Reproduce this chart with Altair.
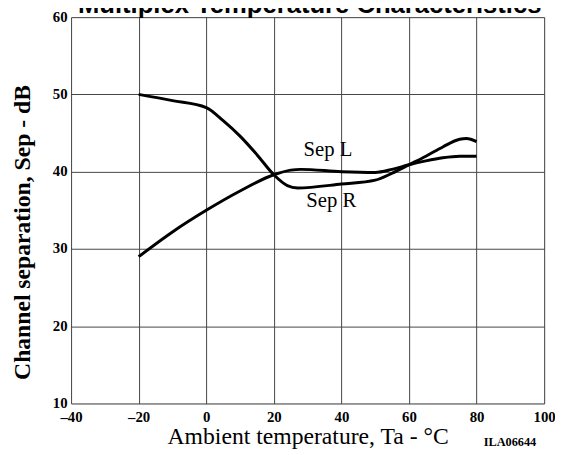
import altair as alt
import pandas as pd

# Data
temp_R = [-20, -10, 0, 5, 10, 15, 20, 24, 27, 40, 50, 55, 60, 65, 70, 75, 77, 80]
sep_R = [50.0, 49.2, 48.3, 46.6, 44.6, 42.2, 39.6, 38.2, 37.9, 38.4, 38.9, 39.8, 40.9, 42.0, 43.2, 44.2, 44.3, 43.9]

temp_L = [-20, -10, 0, 10, 20, 25, 28, 40, 50, 55, 60, 65, 70, 75, 80]
sep_L = [29.0, 32.2, 35.0, 37.5, 39.6, 40.2, 40.3, 40.0, 39.9, 40.3, 40.9, 41.4, 41.8, 42.0, 42.0]

label_text = ["Sep L", "Sep R"]
label_x = [36.0, 37.0]
label_y = [42.0, 35.4]

title_text = ["Multiplex Temperature Characteristics"]
code_text = ["ILA06644"]

x_ticks = [-40, -20, 0, 20, 40, 60, 80, 100]
y_ticks = [10, 20, 30, 40, 50, 60]

df = pd.concat([
    pd.DataFrame({"t": temp_R, "sep": sep_R, "series": "Sep R"}),
    pd.DataFrame({"t": temp_L, "sep": sep_L, "series": "Sep L"}),
])
labels = pd.DataFrame({"t": label_x, "sep": label_y, "text": label_text})

SERIF = "Liberation Serif"

x_scale = alt.Scale(domain=[-40, 100], nice=False, zero=False)
y_scale = alt.Scale(domain=[10, 60], nice=False, zero=False)

x_axis = alt.Axis(
    values=x_ticks, grid=True, gridColor="#444", gridWidth=1, domain=False, ticks=False,
    labelFont=SERIF, labelFontSize=15, labelFontWeight="bold", labelColor="black",
    labelPadding=6, labelFlush=False, labelOverlap=False,
    labelExpr="datum.value < 0 ? '\u2013' + abs(datum.value) : datum.label",
    title="Ambient temperature, Ta - \u00b0C", titleFont=SERIF, titleFontSize=24,
    titleFontWeight="normal", titleColor="black", titleBaseline="alphabetic", titleY=41,
)
y_axis = alt.Axis(
    values=y_ticks, grid=True, gridColor="#444", gridWidth=1, domain=False, ticks=False,
    labelFont=SERIF, labelFontSize=15, labelFontWeight="bold", labelColor="black",
    labelPadding=4, labelFlush=False, labelOverlap=False, labelOffset=-1,
    title="Channel separation, Sep - dB", titleFont=SERIF, titleFontSize=24,
    titleFontWeight="bold", titleColor="black", titleX=-42, titleY=218,
    titleAlign="center", titleBaseline="alphabetic", titleAngle=270,
)

lines = alt.Chart(df).mark_line(color="black", strokeWidth=3, interpolate="monotone").encode(
    x=alt.X("t:Q", scale=x_scale, axis=x_axis),
    y=alt.Y("sep:Q", scale=y_scale, axis=y_axis),
    detail="series:N",
)

texts = alt.Chart(labels).mark_text(
    font=SERIF, fontSize=21, color="black", align="center", baseline="alphabetic"
).encode(
    x=alt.X("t:Q", scale=x_scale),
    y=alt.Y("sep:Q", scale=y_scale),
    text="text:N",
)

code = alt.Chart(pd.DataFrame({"t": [100], "sep": [10], "text": code_text})).mark_text(
    font=SERIF, fontSize=12.5, fontWeight="bold", color="black", align="right",
    baseline="alphabetic", dx=-8, dy=43,
).encode(
    x=alt.X("t:Q", scale=x_scale),
    y=alt.Y("sep:Q", scale=y_scale),
    text="text:N",
)

# Chart title: in the reference it is cut off at the top edge of the picture
title = alt.Chart(pd.DataFrame({"text": title_text})).mark_text(
    font="Liberation Sans", fontSize=26, fontWeight="bold", color="black",
    align="left", baseline="alphabetic",
).encode(
    x=alt.value(7),
    y=alt.value(-4),
    text="text:N",
)

chart = alt.layer(lines, texts, code, title).properties(
    width=480, height=392,
    autosize=alt.AutoSizeParams(type="none"),
    padding={"left": 64, "top": 6, "right": 11, "bottom": 49},
).configure_view(stroke="black", strokeWidth=2).configure(background="white")

chart.save("out.html", embed_options={"renderer": "svg", "actions": False})
